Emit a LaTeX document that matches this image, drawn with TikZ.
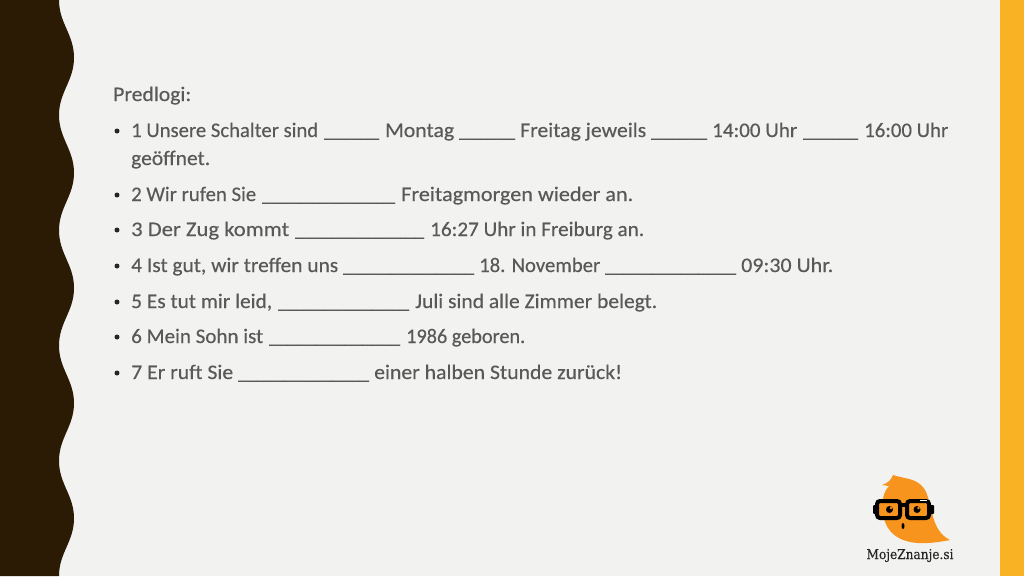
\documentclass[tikz,border=0pt]{standalone}
\usepackage{fontspec}
\setmainfont{Carlito}[BoldFont=Carlito,BoldFeatures={FakeBold=0.35}]
\newfontfamily\logofont{DejaVu Serif Condensed}[BoldFont=DejaVu Serif Condensed,BoldFeatures={FakeBold=0.3}]
\definecolor{pagebg}{HTML}{F2F2F0}
\definecolor{wavebrown}{HTML}{2B1B05}
\definecolor{baryellow}{HTML}{F9B224}
\definecolor{logoorange}{HTML}{F7941E}
\definecolor{textgrey}{HTML}{595959}
\newcommand{\gapS}{\_\_\_\_\_\_}
\newcommand{\gapL}{\_\_\_\_\_\_\_\_\_\_\_\_\_\_}
\tikzset{
	line/.style={anchor=base west,inner sep=0pt,text=textgrey,font=\fontsize{20.7}{23}\selectfont\bfseries},
	bullet/.style={circle,fill=black!85,inner sep=0pt,minimum size=5pt},
	lens/.style={rounded corners=3pt,draw=black,line width=4pt,fill=logoorange},
}
\begin{document}
\begin{tikzpicture}[x=1pt,y=-1pt]
		\useasboundingbox (0,0) rectangle (1024,576);
		\fill[pagebg] (0,0) rectangle (1024,576);
		\fill[baryellow] (1000,0) rectangle (1024,576);
		
		% wavy band
		\fill[wavebrown] (0,0) -- (59,0)
		  to[out=-90,in=90] (74,57.6) to[out=-90,in=90] (59,115.2)
		  to[out=-90,in=90] (74,172.8) to[out=-90,in=90] (59,230.4)
		  to[out=-90,in=90] (74,288) to[out=-90,in=90] (59,345.6)
		  to[out=-90,in=90] (74,403.2) to[out=-90,in=90] (59,460.8)
		  to[out=-90,in=90] (74,518.4) to[out=-90,in=90] (59,576) -- (0,576) -- cycle;
		
		\foreach \name/\ypos in {a/131,b/195,c/230,d/266,e/302,f/337,g/373}
		  \node[bullet] (bullet\name) at (117,\ypos) {};
		
		% text runs: left edge / baseline / width / text
		\foreach \xpos/\ypos/\wdth/\txt [count=\n] in {
		  113/101/78/{Predlogi:},
		  131/137/187/{1 Unsere Schalter sind},324/137/55/{\gapS},385/137/69/{Montag},459/137/56/{\gapS},
		  520/137/126/{Freitag jeweils},651/137/56/{\gapS},712/137/85/{14:00 Uhr},803/137/55/{\gapS},864/137/84/{16:00 Uhr},
		  131/165/79/{geöffnet.},
		  131/201/125/{2 Wir rufen Sie},262/201/133/{\gapL},401/201/232/{Freitagmorgen wieder an.},
		  131/236/158/{3 Der Zug kommt},295/236/129/{\gapL},430/236/214/{16:27 Uhr in Freiburg an.},
		  131/272/207/{4 Ist gut, wir treffen uns},343/272/131/{\gapL},479/272/121/{18. November},605/272/131/{\gapL},741/272/92/{09:30 Uhr.},
		  131/308/141/{5 Es tut mir leid,},278/308/131/{\gapL},415/308/242/{Juli sind alle Zimmer belegt.},
		  131/343/132/{6 Mein Sohn ist},269/343/131/{\gapL},406/343/119/{1986 geboren.},
		  131/379/102/{7 Er ruft Sie},238/379/131/{\gapL},374/379/248/{einer halben Stunde zurück!}}
		  \node[line] (run\n) at (\xpos,\ypos) {\resizebox*{\wdth pt}{\totalheight}{\txt}};
		
		% logo
		\fill[logoorange] (893,475) .. controls (905,479) and (918,478) .. (925,490)
		  .. controls (933,505) and (930,530) .. (950,540)
		  .. controls (925,545) and (900,546) .. (888,528)
		  .. controls (880,515) and (880,495) .. (889,486) -- (882,485) .. controls (888,483) and (891,480) .. (893,475) -- cycle;
		\fill[rounded corners=1pt] (873,505) rectangle (878,514);
		\fill[rounded corners=1pt] (929,505) rectangle (934,514);
		\draw[lens] (877,501) rectangle (900,518);
		\draw[lens] (907,501) rectangle (929,518);
		\draw[line width=4pt] (900,505) -- (907,505);
		\fill[white] (920,499.5) rectangle (927,501);
		\fill (889.5,509.5) circle (3.5pt);
		\fill (917,509.5) circle (3.5pt);
		\fill[logoorange] (891,508) circle (1.3pt);
		\fill[logoorange] (918.5,508) circle (1.3pt);
		\fill (903,526) ellipse (1.5pt and 3pt);
		\node[anchor=base,inner sep=0pt,text=black!85,font=\logofont\fontsize{13.5}{14}\selectfont\bfseries] (brand) at (910,559) {MojeZnanje.si};
		\end{tikzpicture}
\end{document}
